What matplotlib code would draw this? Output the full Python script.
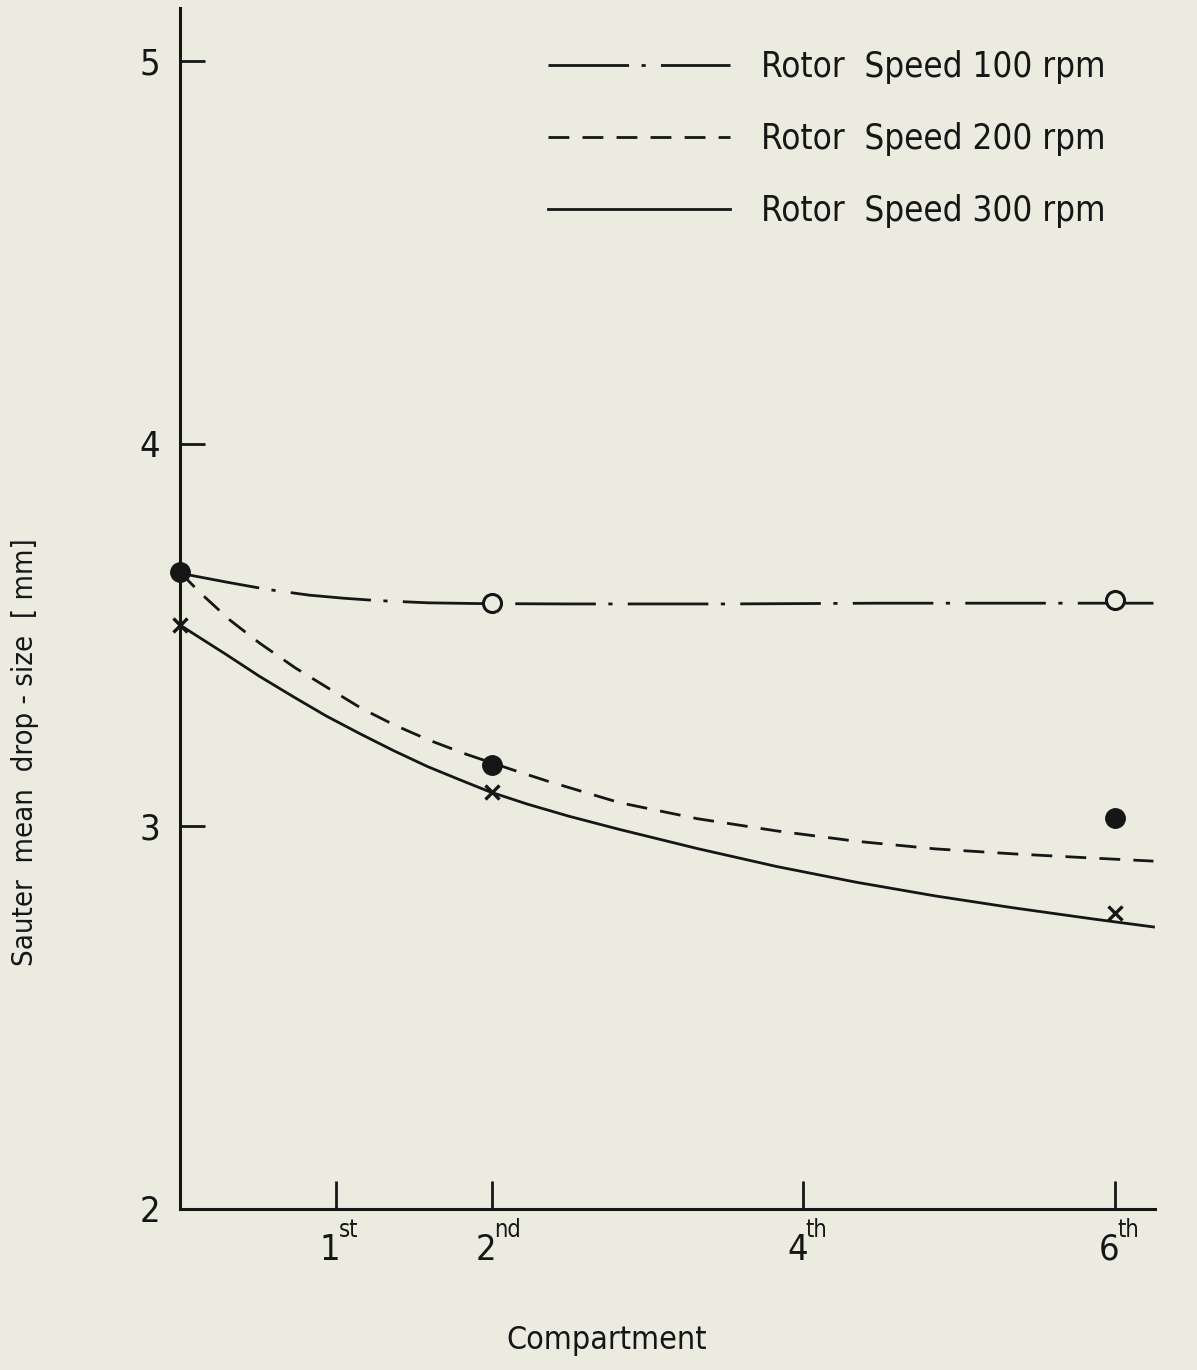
import os
import matplotlib
matplotlib.use("Agg")
import matplotlib.pyplot as plt
from matplotlib import font_manager
from matplotlib.font_manager import FontProperties
from matplotlib.transforms import offset_copy

# ---- data -------------------------------------------------------------
# measured Sauter mean drop sizes [mm] per compartment position
pts_x_100 = [2, 6]
pts_y_100 = [3.583, 3.591]
pts_x_200 = [0, 2, 6]
pts_y_200 = [3.664, 3.160, 3.022]
pts_x_300 = [0, 2, 6]
pts_y_300 = [3.526, 3.090, 2.773]

# smoothed trend curves drawn through the measurements
fit_x_100 = [0, 0.08, 0.30, 0.56, 0.83, 1.05, 1.26, 1.59, 1.91, 2.5, 3.5, 4.5, 5.5, 6.25]
fit_y_100 = [3.662, 3.655, 3.638, 3.619, 3.604, 3.596, 3.590, 3.584, 3.582,
             3.581, 3.581, 3.583, 3.583, 3.583]
fit_x_200 = [0, 0.13, 0.32, 0.51, 0.74, 0.96, 1.17, 1.38, 1.60, 1.84, 2.14, 2.36,
             2.82, 3.32, 3.83, 4.34, 4.85, 5.35, 5.86, 6.25]
fit_y_200 = [3.664, 3.610, 3.539, 3.479, 3.414, 3.359, 3.307, 3.264, 3.225, 3.188,
             3.147, 3.118, 3.062, 3.020, 2.988, 2.961, 2.941, 2.928, 2.917, 2.909]
fit_x_300 = [0, 0.08, 0.30, 0.51, 0.73, 0.94, 1.16, 1.37, 1.59, 1.80, 1.99, 2.23,
             2.5, 2.82, 3.32, 3.83, 4.34, 4.85, 5.35, 5.86, 6.25]
fit_y_300 = [3.526, 3.505, 3.448, 3.392, 3.338, 3.288, 3.241, 3.198, 3.156, 3.121,
             3.090, 3.058, 3.026, 2.992, 2.942, 2.895, 2.854, 2.818, 2.787, 2.758, 2.737]

series_labels = ["Rotor  Speed 100 rpm", "Rotor  Speed 200 rpm", "Rotor  Speed 300 rpm"]
x_ticks = [1, 2, 4, 6]
x_tick_digits = ["1", "2", "4", "6"]
x_tick_suffix = ["st", "nd", "th", "th"]
y_ticks = [2, 3, 4, 5]
y_tick_labels = ["2", "3", "4", "5"]


# ---- fonts ------------------------------------------------------------
def pick_narrow_font():
    wanted = ["LiberationSansNarrow-Regular", "DejaVuSansCondensed.ttf",
              "OpenSans_Condensed-Regular", "OpenSansCondensed-Regular",
              "Roboto_Condensed-Regular", "RobotoCondensed-Regular"]
    files = [f.fname for f in font_manager.fontManager.ttflist]
    for key in wanted:
        for path in files:
            if key.lower() in os.path.basename(path).lower():
                return path
    for path in files:
        base = os.path.basename(path).lower()
        if ("condensed" in base or "narrow" in base) and "bold" not in base \
                and "oblique" not in base and "italic" not in base:
            return path
    return None


narrow_path = pick_narrow_font()
if narrow_path:
    def fp(size):
        return FontProperties(fname=narrow_path, size=size)
    k = 1.0
else:
    def fp(size):
        return FontProperties(family="DejaVu Sans", size=size)
    k = 0.85

plt.rcParams["lines.scale_dashes"] = False

ink = "#161616"
paper = "#ecebdf"

W, H = 1197, 1370
fig = plt.figure(figsize=(W / 100, H / 100), dpi=100, facecolor=paper)
ax = fig.add_axes([180 / W, (H - 1209) / H, (1155 - 180) / W, (1209 - 8) / H])
ax.set_facecolor(paper)

lw = 2.0
ax.plot(fit_x_100, fit_y_100, color=ink, lw=lw, dashes=(58, 9, 3, 11),
        label=series_labels[0], clip_on=False, solid_joinstyle="round")
ax.plot(fit_x_200, fit_y_200, color=ink, lw=lw, dashes=(15, 9.5),
        label=series_labels[1], clip_on=False)
ax.plot(fit_x_300, fit_y_300, color=ink, lw=lw, label=series_labels[2],
        clip_on=False, solid_joinstyle="round")

ax.plot(pts_x_100, pts_y_100, ls="none", marker="o", ms=13, mfc=paper, mec=ink,
        mew=2.2, clip_on=False, zorder=4)
ax.plot(pts_x_200, pts_y_200, ls="none", marker="o", ms=14, mfc=ink, mec=ink,
        clip_on=False, zorder=4)
ax.plot(pts_x_300, pts_y_300, ls="none", marker="x", ms=10, mec=ink, mew=2.4,
        clip_on=False, zorder=4)

ax.set_xlim(0, 6.26)
ax.set_ylim(2, 2 + (1209 - 8) / 382.7)

for side in ("top", "right"):
    ax.spines[side].set_visible(False)
for side in ("left", "bottom"):
    ax.spines[side].set_linewidth(2.2)
    ax.spines[side].set_color(ink)

ax.set_xticks(x_ticks)
ax.set_xticklabels([])
ax.set_yticks(y_ticks)
ax.set_yticklabels(y_tick_labels)
for lab in ax.get_yticklabels():
    lab.set_fontproperties(fp(26 * k))
ax.tick_params(axis="both", direction="in", colors=ink, width=2.0)
ax.tick_params(axis="x", length=20)
ax.tick_params(axis="y", length=18, pad=14)
ax.yaxis.get_major_ticks()[0].tick1line.set_visible(False)

# ordinal compartment labels: digit with a raised suffix
xform = ax.get_xaxis_transform()
for xv, dig, suf in zip(x_ticks, x_tick_digits, x_tick_suffix):
    t1 = offset_copy(xform, fig=fig, x=-4, y=-29.5, units="points")
    ax.text(xv, 0, dig, transform=t1, ha="center", va="center",
            fontproperties=fp(26 * k), color=ink)
    t2 = offset_copy(xform, fig=fig, x=2, y=-15, units="points")
    ax.text(xv, 0, suf, transform=t2, ha="left", va="center",
            fontproperties=fp(17 * k), color=ink)

fig.text(607 / W, 1 - 1340 / H, "Compartment", fontproperties=fp(23 * k),
         color=ink, ha="center", va="center")
fig.text(25 / W, 1 - 752 / H, "Sauter  mean  drop - size  [ mm]",
         fontproperties=fp(21 * k), color=ink, rotation=90,
         ha="center", va="center")

leg = ax.legend(loc="upper left", bbox_to_anchor=(548 / W, 1 - 50 / H),
                bbox_transform=fig.transFigure, frameon=False,
                prop=fp(25 * k), handlelength=182 / (25 * k * 1.389),
                handletextpad=0.9, labelspacing=1.1,
                borderpad=0, borderaxespad=0, labelcolor=ink)

fig.savefig("out.png", dpi=100, facecolor=paper)
